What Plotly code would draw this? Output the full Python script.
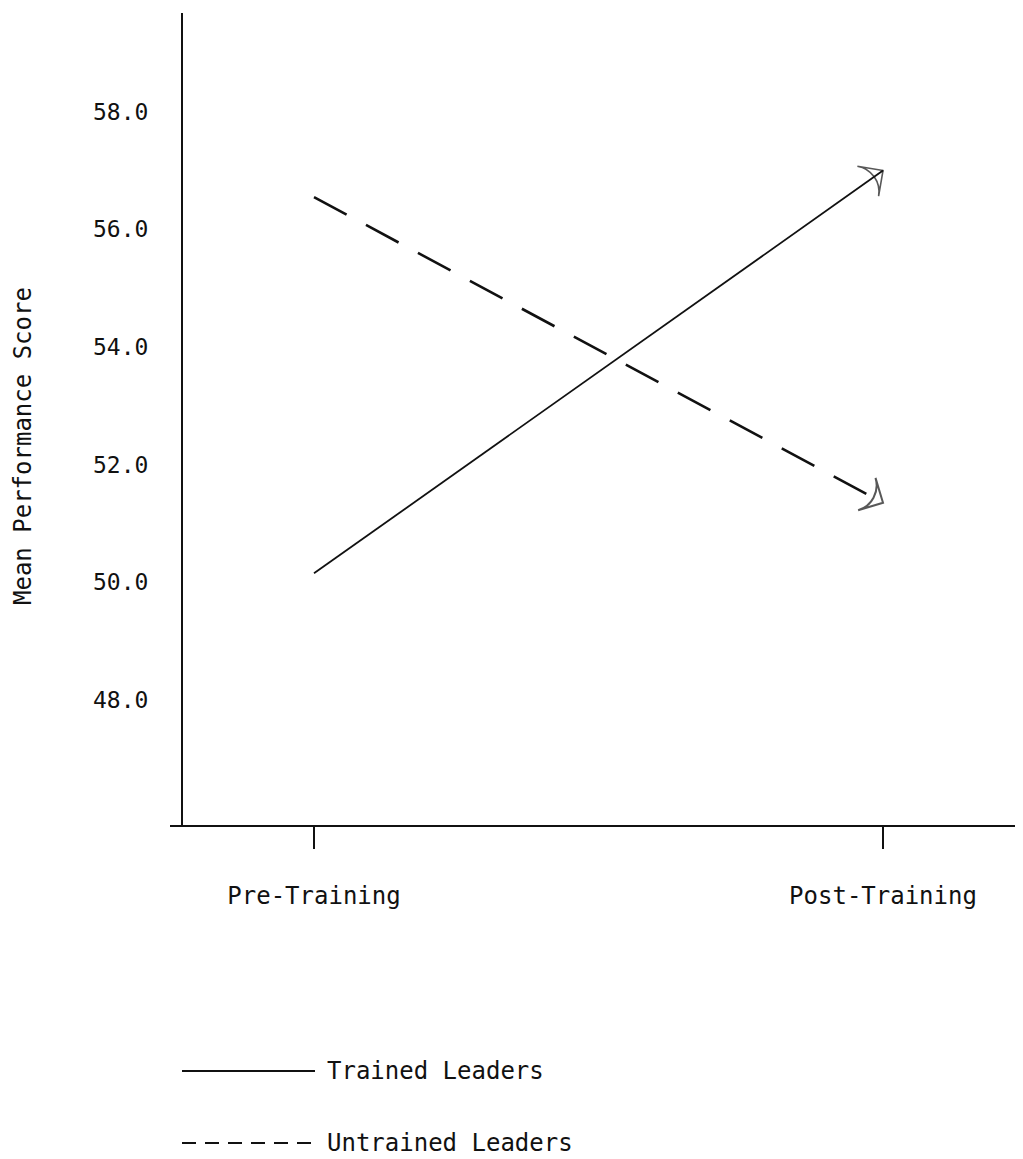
import plotly.graph_objects as go

# ---- data ----
phases = ["Pre-Training", "Post-Training"]
phase_pos = [0, 1]
trained = [50.15, 57.0]
untrained = [56.55, 51.35]
y_ticks = [48.0, 50.0, 52.0, 54.0, 56.0, 58.0]
y_tick_text = ["48.0", "50.0", "52.0", "54.0", "56.0", "58.0"]
series_names = ["Trained Leaders", "Untrained Leaders"]
y_title = "Mean Performance Score"

FONT = "DejaVu Sans Mono"
INK = "#111111"

# page body adds an 8px offset; work in reference-page pixels
OFF = 8
W, H = 1023 - OFF, 1159 - OFF
# plot area in reference-page pixels
PL, PR, PT, PB = 170, 1023, 13, 825
ML, MR, MT, MB = PL - OFF, 1023 - PR, PT - OFF, 1159 - PB
PW, PH = PR - PL, PB - PT

def px_to_paper_x(px):
    return (px - PL) / PW

def px_to_paper_y(py):
    return (PB - py) / PH

fig = go.Figure()

fig.add_trace(go.Scatter(
    x=phase_pos, y=trained, name=series_names[0], mode="lines+markers",
    line=dict(color=INK, width=1.8),
    marker=dict(symbol=["circle", "arrow-wide-open"], size=[0, 26], angleref="previous",
                color=INK, line=dict(color=INK, width=1.6)),
    showlegend=False, hoverinfo="skip",
))
fig.add_trace(go.Scatter(
    x=phase_pos, y=untrained, name=series_names[1], mode="lines+markers",
    line=dict(color=INK, width=2.6, dash="37px,22px"),
    marker=dict(symbol=["circle", "arrow-wide-open"], size=[0, 26], angleref="previous",
                color=INK, line=dict(color=INK, width=2)),
    showlegend=False, hoverinfo="skip",
))

# custom legend (long sample lines as in the original)
legend_rows = [(1071, "solid", 1.8), (1143, "14px,9px", 2)]
shapes = []
annotations = []
for name, (py, dash, w) in zip(series_names, legend_rows):
    shapes.append(dict(type="line", xref="paper", yref="paper",
                       x0=px_to_paper_x(182), x1=px_to_paper_x(315),
                       y0=px_to_paper_y(py), y1=px_to_paper_y(py),
                       line=dict(color=INK, width=w, dash=dash)))
    annotations.append(dict(xref="paper", yref="paper", x=px_to_paper_x(325),
                            y=px_to_paper_y(py), xanchor="left", yanchor="middle",
                            text=name, showarrow=False,
                            font=dict(family=FONT, size=24, color=INK)))

annotations.append(dict(xref="paper", yref="paper", x=px_to_paper_x(23),
                        y=px_to_paper_y(446), xanchor="center", yanchor="middle",
                        text=y_title, textangle=-90, showarrow=False,
                        font=dict(family=FONT, size=24, color=INK)))

px_per_unit = 883 - 314
fig.update_layout(
    width=W, height=H,
    margin=dict(l=ML, r=MR, t=MT, b=MB, pad=0),
    paper_bgcolor="white", plot_bgcolor="white",
    font=dict(family=FONT, color=INK),
    shapes=shapes, annotations=annotations,
    xaxis=dict(
        range=[(PL - 314) / px_per_unit, (PR - 314) / px_per_unit],
        tickvals=phase_pos, ticktext=phases,
        showgrid=False, zeroline=False,
        showline=True, linecolor=INK, linewidth=2,
        ticks="outside", ticklen=22, tickwidth=2, tickcolor=INK,
        ticklabelstandoff=26,
        tickfont=dict(family=FONT, size=24, color=INK),
    ),
    yaxis=dict(
        range=[45.87, 59.68],
        tickvals=y_ticks, ticktext=y_tick_text,
        anchor="free", position=px_to_paper_x(182),
        showgrid=False, zeroline=False,
        showline=True, linecolor=INK, linewidth=2,
        ticks="", ticklabelstandoff=28,
        tickfont=dict(family=FONT, size=23, color=INK),
    ),
)

fig.write_html("out.html")
